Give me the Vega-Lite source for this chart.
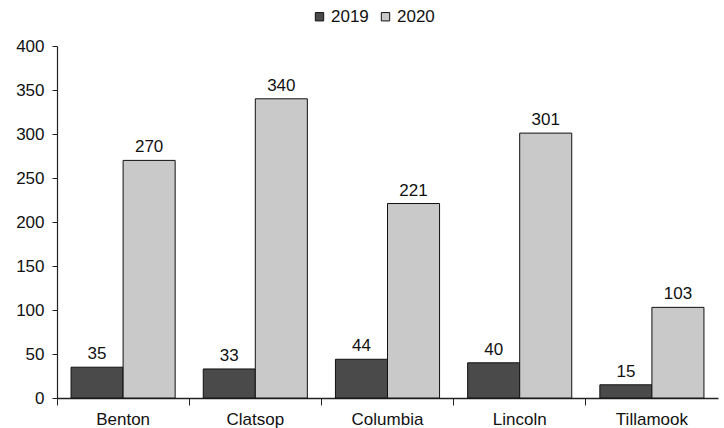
{
  "$schema": "https://vega.github.io/schema/vega-lite/v6.json",
  "width": 661,
  "height": 352,
  "autosize": {"type": "none"},
  "padding": {"left": 57, "top": 46, "right": 6, "bottom": 30},
  "background": "white",
  "config": {
    "view": {"stroke": null},
    "font": "Liberation Sans",
    "axis": {"labelFont": "Liberation Sans", "labelFontSize": 17, "labelColor": "#111", "domainColor": "#222", "tickColor": "#222", "grid": false, "title": null}
  },
  "data": {
    "values": [
      {"county": "Benton", "year": "2019", "value": 35},
      {"county": "Benton", "year": "2020", "value": 270},
      {"county": "Clatsop", "year": "2019", "value": 33},
      {"county": "Clatsop", "year": "2020", "value": 340},
      {"county": "Columbia", "year": "2019", "value": 44},
      {"county": "Columbia", "year": "2020", "value": 221},
      {"county": "Lincoln", "year": "2019", "value": 40},
      {"county": "Lincoln", "year": "2020", "value": 301},
      {"county": "Tillamook", "year": "2019", "value": 15},
      {"county": "Tillamook", "year": "2020", "value": 103}
    ]
  },
  "encoding": {
    "x": {"field": "county", "type": "nominal", "sort": null,
      "scale": {"paddingInner": 0, "paddingOuter": 0},
      "axis": {"labelAngle": 0, "bandPosition": 0, "tickSize": 7, "labelPadding": 6, "domainWidth": 1.5}},
    "xOffset": {"field": "year", "type": "nominal", "scale": {"paddingInner": 0, "paddingOuter": 0.27}},
    "y": {"field": "value", "type": "quantitative", "scale": {"domain": [0, 400]},
      "axis": {"values": [0, 50, 100, 150, 200, 250, 300, 350, 400], "tickSize": 5, "labelPadding": 8, "domainWidth": 1.2}}
  },
  "layer": [
    {
      "mark": {"type": "bar", "stroke": "#111", "strokeWidth": 1},
      "encoding": {
        "color": {"field": "year", "type": "nominal",
          "scale": {"domain": ["2019", "2020"], "range": ["#4a4a4a", "#c9c9c9"]},
          "legend": {"title": null, "orient": "none", "direction": "horizontal", "legendX": 254, "legendY": -38,
            "symbolType": "square", "symbolSize": 70, "symbolStrokeColor": "#111", "symbolStrokeWidth": 1,
            "labelFontSize": 17, "labelFont": "Liberation Sans", "labelColor": "#111", "columnPadding": 8, "labelOffset": 3}}
      }
    },
    {
      "mark": {"type": "text", "dy": -13, "fontSize": 17, "font": "Liberation Sans", "color": "#111"},
      "encoding": {"text": {"field": "value", "type": "quantitative"}}
    }
  ]
}
